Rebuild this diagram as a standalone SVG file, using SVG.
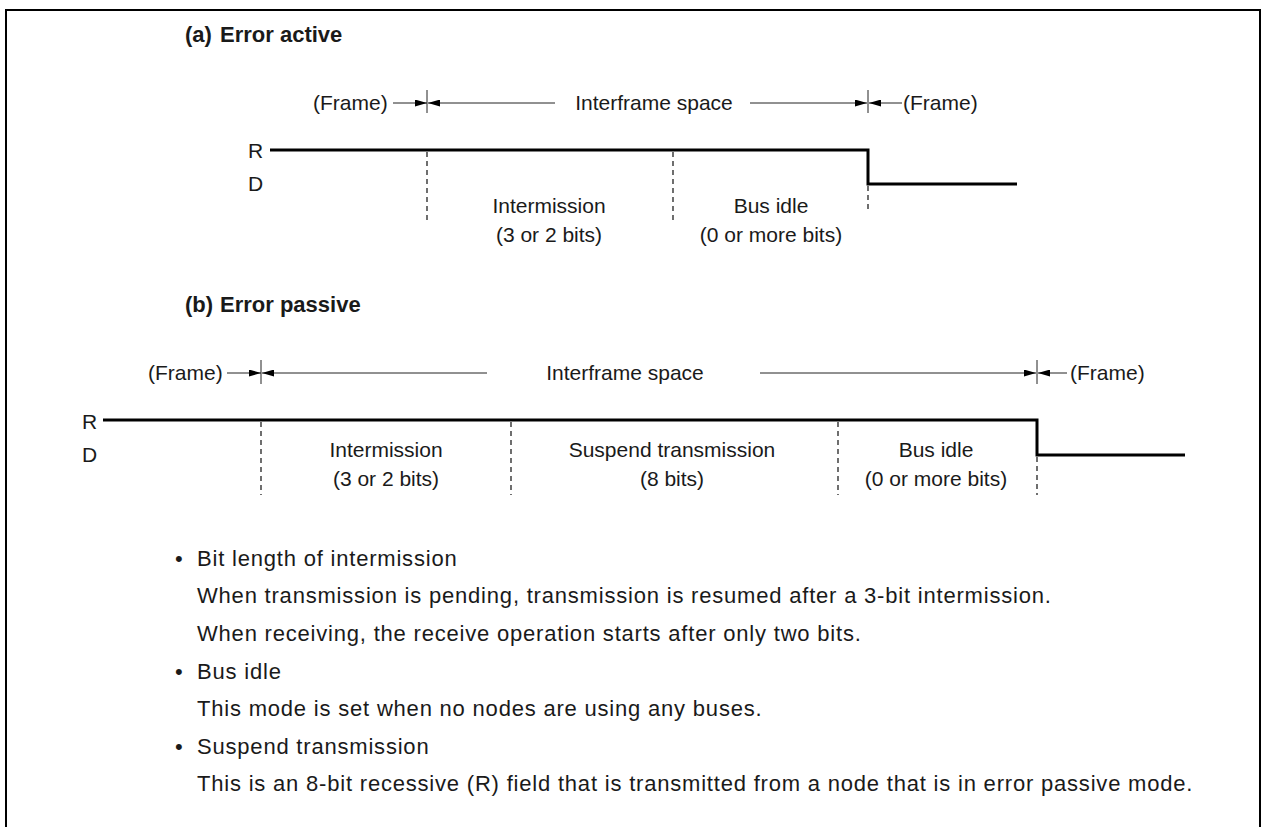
<svg xmlns="http://www.w3.org/2000/svg" width="1262" height="827" viewBox="0 0 1262 827">
<style>
text{font-family:"Liberation Sans",Arial,sans-serif;font-size:21px;fill:#1a1a1a}
.b{font-weight:bold;font-size:22px}
.m{text-anchor:middle}
.n{font-size:22px;letter-spacing:0.8px}
.sig{fill:none;stroke:#000;stroke-width:3}
.dash{fill:none;stroke:#222;stroke-width:1.3;stroke-dasharray:5 4}
.dim{fill:none;stroke:#222;stroke-width:1}
</style>
<defs>
<marker id="ah" viewBox="0 0 12 7" refX="12" refY="3.5" markerWidth="12" markerHeight="7" markerUnits="userSpaceOnUse" orient="auto"><path d="M0,0 L12,3.5 L0,7 Z" fill="#000"/></marker>
</defs>
<rect width="1262" height="827" fill="#fff"/>
<path d="M6,827 V10 H1260 V827" fill="none" stroke="#000" stroke-width="2"/>

<g id="title-a"><text class="b" x="185" y="42">(a)</text><text class="b" x="220" y="42">Error active</text></g>
<g id="labels-a">
<text x="313" y="110">(Frame)</text>
<text class="m" x="654" y="110">Interframe space</text>
<text x="903" y="110">(Frame)</text>
<text x="248" y="158">R</text>
<text x="248" y="191">D</text>
<text class="m" x="549" y="213">Intermission</text>
<text class="m" x="549" y="242">(3 or 2 bits)</text>
<text class="m" x="771" y="213">Bus idle</text>
<text class="m" x="771" y="242">(0 or more bits)</text>
</g>

<g id="title-b"><text class="b" x="185" y="312">(b)</text><text class="b" x="220" y="312">Error passive</text></g>
<g id="labels-b">
<text x="148" y="380">(Frame)</text>
<text class="m" x="625" y="380">Interframe space</text>
<text x="1070" y="380">(Frame)</text>
<text x="82" y="429">R</text>
<text x="82" y="462">D</text>
<text class="m" x="386" y="457">Intermission</text>
<text class="m" x="386" y="486">(3 or 2 bits)</text>
<text class="m" x="672" y="457">Suspend transmission</text>
<text class="m" x="672" y="486">(8 bits)</text>
<text class="m" x="936" y="457">Bus idle</text>
<text class="m" x="936" y="486">(0 or more bits)</text>
</g>

<g id="connectors">
<line class="dim" x1="393" y1="103" x2="427" y2="103" marker-end="url(#ah)"/>
<line class="dim" x1="427" y1="90" x2="427" y2="113"/>
<line class="dim" x1="555" y1="103" x2="428" y2="103" marker-end="url(#ah)"/>
<line class="dim" x1="750" y1="103" x2="867" y2="103" marker-end="url(#ah)"/>
<line class="dim" x1="868" y1="90" x2="868" y2="113"/>
<line class="dim" x1="902" y1="103" x2="869" y2="103" marker-end="url(#ah)"/>
<path class="sig" d="M270,150 H868 V184 H1017"/>
<line class="dash" x1="427" y1="152" x2="427" y2="222"/>
<line class="dash" x1="673" y1="152" x2="673" y2="222"/>
<line class="dash" x1="868" y1="186" x2="868" y2="210"/>
<line class="dim" x1="227" y1="373" x2="261" y2="373" marker-end="url(#ah)"/>
<line class="dim" x1="261" y1="360" x2="261" y2="384"/>
<line class="dim" x1="487" y1="373" x2="262" y2="373" marker-end="url(#ah)"/>
<line class="dim" x1="760" y1="373" x2="1036" y2="373" marker-end="url(#ah)"/>
<line class="dim" x1="1037" y1="360" x2="1037" y2="384"/>
<line class="dim" x1="1067" y1="373" x2="1038" y2="373" marker-end="url(#ah)"/>
<path class="sig" d="M103,420 H1037 V455 H1185"/>
<line class="dash" x1="261" y1="422" x2="261" y2="495"/>
<line class="dash" x1="511" y1="422" x2="511" y2="495"/>
<line class="dash" x1="838" y1="422" x2="838" y2="495"/>
<line class="dash" x1="1037" y1="457" x2="1037" y2="495"/>
</g>

<g id="notes">
<text class="n" x="175" y="566">•</text><text class="n" x="197" y="566">Bit length of intermission</text>
<text class="n" x="197" y="603">When transmission is pending, transmission is resumed after a 3-bit intermission.</text>
<text class="n" x="197" y="641">When receiving, the receive operation starts after only two bits.</text>
<text class="n" x="175" y="679">•</text><text class="n" x="197" y="679">Bus idle</text>
<text class="n" x="197" y="716">This mode is set when no nodes are using any buses.</text>
<text class="n" x="175" y="754">•</text><text class="n" x="197" y="754">Suspend transmission</text>
<text class="n" x="197" y="791">This is an 8-bit recessive (R) field that is transmitted from a node that is in error passive mode.</text>
</g>
</svg>
